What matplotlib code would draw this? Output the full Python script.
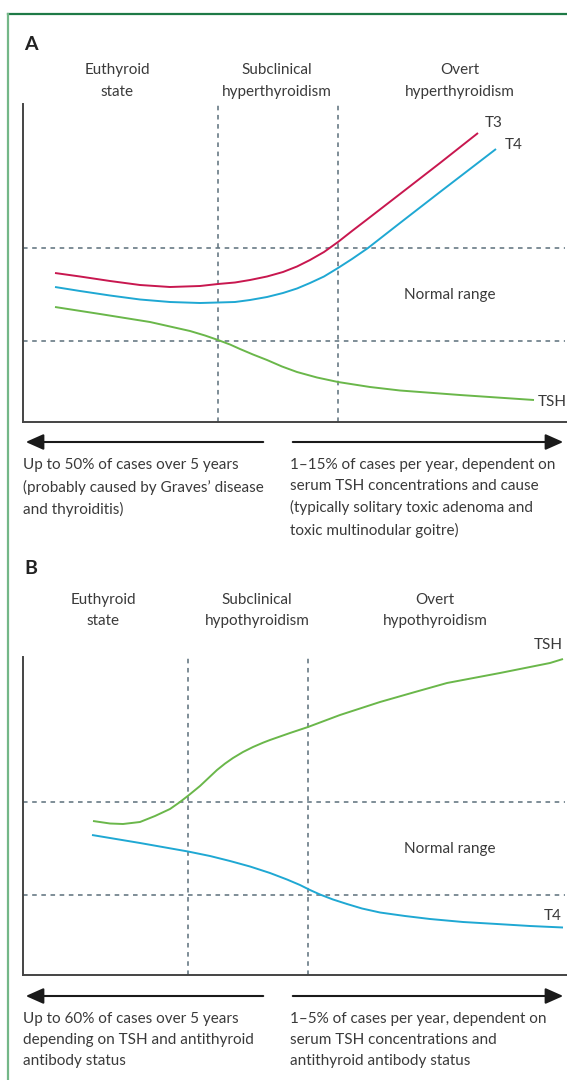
import matplotlib
matplotlib.use("Agg")
import matplotlib.pyplot as plt
from matplotlib.lines import Line2D
from matplotlib.patches import FancyArrowPatch

W, H = 567, 1080
DPI = 100

plt.rcParams["font.family"] = ["Lato", "DejaVu Sans"]

TXT = "#3a3a3a"
SPINE = "#444444"
GRID = "#5b6f7b"
C_T3 = "#c8174f"
C_T4 = "#1fa8d3"
C_TSH = "#6ab74a"

# ---- panel A: hyperthyroidism (x = progression, y = relative level) ----
a_t3_x = [32, 57, 87, 117, 147, 177, 195, 212, 227, 244, 260, 274, 287, 301, 315, 329, 344, 377, 417, 455]
a_t3_y = [149, 145.5, 141, 137, 135, 136, 138, 139.5, 142, 145.5, 150, 155.5, 162, 170, 180, 191, 202.5, 228, 259, 289]
a_t4_x = [32, 57, 87, 117, 147, 177, 195, 212, 227, 244, 260, 274, 287, 301, 315, 329, 345, 361, 377, 417, 473]
a_t4_y = [135, 131, 126.5, 122.5, 120, 119, 119.5, 120, 122, 125, 129, 133.5, 139, 145.5, 154, 163, 174, 186.5, 199, 230, 273]
a_tsh_x = [32, 77, 127, 167, 182, 195, 207, 217, 230, 244, 259, 274, 294, 315, 347, 377, 437, 511]
a_tsh_y = [115, 108, 100, 91, 86.5, 82, 77.5, 73, 67.5, 62, 55.5, 50, 44.5, 40, 35, 31.5, 27, 22]
a_stages = ["Euthyroid\nstate", "Subclinical\nhyperthyroidism", "Overt\nhyperthyroidism"]
a_bounds = [195, 315]          # stage boundaries on the progression axis
a_normal = [81, 174]           # lower / upper limit of the normal range
a_notes = ["Up to 50% of cases over 5 years\n(probably caused by Graves\u2019 disease\nand thyroiditis)",
           "1\u201315% of cases per year, dependent on\nserum TSH concentrations and cause\n"
           "(typically solitary toxic adenoma and\ntoxic multinodular goitre)"]

# ---- panel B: hypothyroidism ----
b_tsh_x = [70, 87, 100, 117, 132, 147, 157, 166, 177, 194, 202, 210, 220, 230, 240, 247, 267, 285,
           317, 357, 392, 424, 477, 507, 527, 540]
b_tsh_y = [154, 151.5, 151, 153, 159, 166, 173, 180, 189, 205, 211.4, 217, 223, 228, 232.3, 235, 242, 248,
           260, 273, 283, 292, 302, 308, 312, 316]
b_t4_x = [69, 117, 165, 187, 207, 227, 247, 264, 277, 287, 297, 310, 324, 339, 357, 382, 407, 440, 474, 507, 540]
b_t4_y = [140, 132, 123.5, 119, 114, 108.5, 102, 95.5, 90, 85, 80.5, 75.5, 71, 66.5, 62.5, 59, 56, 53, 51, 49, 47.5]
b_stages = ["Euthyroid\nstate", "Subclinical\nhypothyroidism", "Overt\nhypothyroidism"]
b_bounds = [165, 285]
b_normal = [80, 173]
b_notes = ["Up to 60% of cases over 5 years\ndepending on TSH and antithyroid\nantibody status",
           "1\u20135% of cases per year, dependent on\nserum TSH concentrations and\nantithyroid antibody status"]


def fx(x):
    return x / W


def fy(y):
    return 1 - y / H


fig = plt.figure(figsize=(W / DPI, H / DPI), dpi=DPI)


def make_axes(top, bottom):
    ax = fig.add_axes([fx(23), fy(bottom), fx(W - 23), (bottom - top) / H])
    ax.set_xlim(0, W - 23)
    ax.set_ylim(0, bottom - top)
    for side in ("top", "right"):
        ax.spines[side].set_visible(False)
    for side in ("left", "bottom"):
        ax.spines[side].set_color(SPINE)
        ax.spines[side].set_linewidth(1.4)
    ax.set_xticks([])
    ax.set_yticks([])
    ax.patch.set_alpha(0)
    return ax


def guides(ax, bounds, normal):
    for b in bounds:
        ax.axvline(b, color=GRID, lw=1.1, ls=(0, (3, 3)), zorder=1)
    for n in normal:
        ax.plot([0, 542], [n, n], color=GRID, lw=1.1, ls=(0, (3, 3)), zorder=1)
    ax.text(427, (normal[0] + normal[1]) / 2, "Normal range", ha="center", va="center",
            fontsize=11, color=TXT)


def curve(ax, x, y, color, label, dx, dy, ha):
    ax.plot(x, y, color=color, lw=1.4, solid_capstyle="butt", solid_joinstyle="round", zorder=3)
    ax.annotate(label, (x[-1], y[-1]), xytext=(dx, dy), textcoords="offset pixels",
                ha=ha, va="center", fontsize=11, color=TXT)


def header(letter, ly, centers, stages, sy):
    fig.text(fx(24), fy(ly), letter, fontsize=14, fontweight="bold", color="#222222",
             ha="left", va="center")
    for cx, s in zip(centers, stages):
        fig.text(fx(cx), fy(sy), s, fontsize=11, color=TXT, ha="center", va="center",
                 linespacing=1.65)


def footer(ay, notes, ty):
    style = "-|>,head_length=0.9,head_width=0.4"
    fig.patches.append(FancyArrowPatch((fx(266), fy(ay)), (fx(23), fy(ay)),
                                       transform=fig.transFigure, arrowstyle=style,
                                       mutation_scale=12, color="#1a1a1a", lw=1.5))
    fig.patches.append(FancyArrowPatch((fx(290), fy(ay)), (fx(566), fy(ay)),
                                       transform=fig.transFigure, arrowstyle=style,
                                       mutation_scale=12, color="#1a1a1a", lw=1.5))
    fig.text(fx(23), fy(ty), notes[0], fontsize=11, color=TXT, ha="left", va="top",
             linespacing=1.6)
    fig.text(fx(290), fy(ty), notes[1], fontsize=11, color=TXT, ha="left", va="top",
             linespacing=1.6)


# panel A
axA = make_axes(104, 422)
guides(axA, a_bounds, a_normal)
curve(axA, a_t3_x, a_t3_y, C_T3, "T3", 7, 10, "left")
curve(axA, a_t4_x, a_t4_y, C_T4, "T4", 9, 4, "left")
curve(axA, a_tsh_x, a_tsh_y, C_TSH, "TSH", 4, -2, "left")
header("A", 45, [117, 277, 460], a_stages, 81)
footer(442, a_notes, 458.5)

# panel B
axB = make_axes(657, 975)
guides(axB, b_bounds, b_normal)
curve(axB, b_tsh_x, b_tsh_y, C_TSH, "TSH", 0, 14, "right")
curve(axB, b_t4_x, b_t4_y, C_T4, "T4", -1, 12, "right")
header("B", 568, [103, 257, 435], b_stages, 610.5)
footer(996, b_notes, 1012.5)

# frame around the figure
fig.add_artist(Line2D([fx(8), 1], [fy(14), fy(14)], color="#1e7a46", lw=1.6))
fig.add_artist(Line2D([fx(8), fx(8)], [fy(14), 0], color="#74b788", lw=1.6))

fig.savefig("out.png", dpi=DPI)
